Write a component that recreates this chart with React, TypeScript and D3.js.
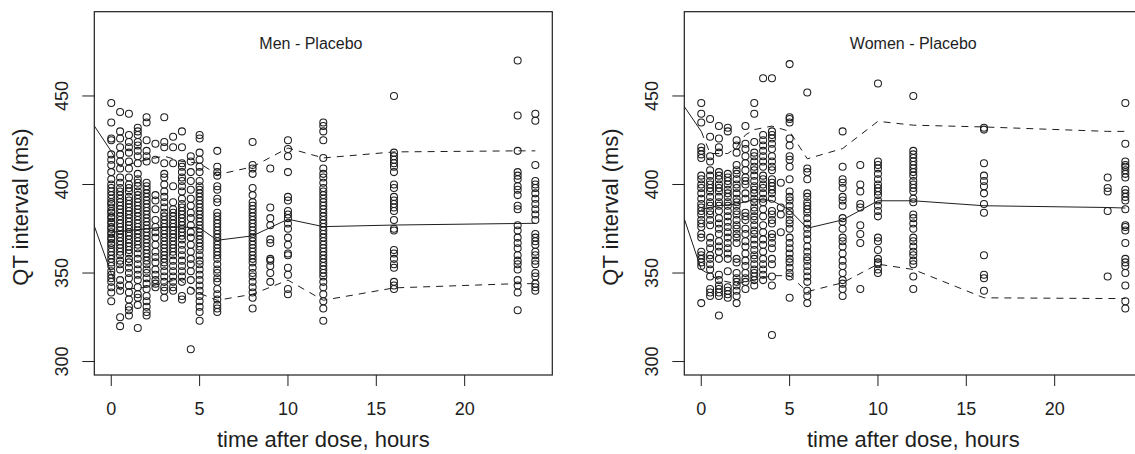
import React, { useEffect, useRef } from "react";
import * as d3 from "d3";

// nominal sampling times (hours) shared by both panels
const pointTimes = [0, 0.5, 1, 1.5, 2, 2.5, 3, 3.5, 4, 4.5, 5, 6, 8, 9, 10, 12, 16, 23, 24];

// QT values (ms) per sampling time, men
const menQT = [
  [446, 435, 426, 425, 417, 414, 411, 407, 403, 400, 398, 396, 394, 392, 390, 389, 387, 385, 384, 382, 381, 379, 378, 376, 375, 373, 372, 370, 369, 367, 366, 364, 362, 360, 358, 356, 354, 351, 349, 347, 345, 342, 339, 334],
  [441, 430, 426, 421, 417, 413, 409, 404, 401, 398, 396, 394, 392, 390, 388, 386, 384, 382, 380, 378, 376, 374, 372, 370, 368, 366, 364, 362, 360, 357, 355, 352, 346, 343, 340, 325, 320],
  [440, 428, 424, 421, 418, 413, 409, 404, 400, 398, 396, 393, 391, 389, 387, 385, 383, 381, 379, 377, 375, 373, 371, 369, 367, 365, 363, 361, 358, 356, 353, 350, 347, 343, 339, 335, 331, 329, 326],
  [432, 430, 428, 424, 422, 419, 416, 412, 406, 403, 401, 399, 396, 394, 392, 390, 388, 386, 384, 382, 380, 378, 376, 374, 372, 370, 368, 366, 364, 361, 358, 355, 352, 349, 346, 342, 338, 336, 332, 319],
  [438, 435, 425, 419, 416, 413, 401, 399, 397, 395, 393, 391, 389, 387, 385, 383, 381, 379, 377, 375, 373, 371, 369, 367, 365, 363, 361, 359, 357, 355, 352, 350, 347, 344, 341, 337, 334, 331, 328, 326],
  [423, 414, 394, 391, 386, 380, 376, 373, 370, 366, 362, 359, 356, 352, 349, 346, 344, 342],
  [438, 424, 421, 412, 406, 404, 400, 396, 393, 390, 387, 384, 382, 380, 378, 376, 374, 372, 370, 368, 366, 364, 362, 360, 358, 356, 354, 351, 348, 345, 342, 340, 336],
  [427, 421, 412, 399, 390, 386, 384, 382, 380, 378, 376, 374, 372, 370, 368, 366, 364, 362, 360, 357, 354, 351, 348, 345, 342, 340],
  [430, 421, 412, 410, 407, 404, 402, 399, 396, 392, 389, 387, 385, 383, 381, 379, 377, 375, 373, 371, 369, 366, 363, 360, 357, 354, 351, 348, 345, 337, 335],
  [416, 413, 407, 402, 397, 392, 388, 384, 381, 377, 373, 370, 366, 362, 358, 355, 351, 346, 340, 307],
  [428, 426, 418, 414, 410, 407, 402, 399, 397, 395, 393, 391, 389, 387, 385, 383, 381, 379, 377, 375, 373, 371, 369, 367, 365, 363, 360, 357, 355, 352, 349, 346, 343, 340, 337, 334, 331, 328, 323],
  [419, 410, 407, 405, 399, 397, 392, 390, 384, 382, 380, 378, 376, 374, 372, 370, 368, 366, 364, 362, 360, 358, 355, 352, 350, 347, 345, 341, 338, 335, 332, 330, 328],
  [424, 411, 409, 406, 398, 394, 390, 388, 386, 384, 382, 380, 378, 376, 374, 372, 370, 368, 366, 364, 362, 360, 358, 356, 353, 350, 348, 345, 342, 339, 336, 330],
  [409, 387, 381, 377, 369, 367, 358, 357, 354, 350, 345],
  [425, 420, 416, 407, 393, 391, 385, 383, 381, 378, 375, 370, 366, 361, 360, 353, 349, 341, 338],
  [435, 433, 430, 425, 415, 409, 406, 404, 401, 398, 396, 394, 392, 390, 388, 386, 384, 382, 380, 378, 376, 374, 372, 370, 368, 366, 364, 362, 360, 358, 356, 354, 352, 350, 348, 345, 342, 338, 334, 330, 323],
  [450, 418, 416, 414, 412, 410, 407, 400, 398, 393, 391, 389, 387, 385, 380, 375, 374, 363, 361, 358, 355, 353, 345, 343, 341],
  [470, 439, 419, 407, 405, 403, 399, 397, 394, 388, 386, 377, 374, 370, 367, 364, 360, 357, 355, 352, 346, 343, 339, 329],
  [440, 436, 411, 402, 400, 398, 395, 392, 389, 386, 383, 380, 372, 370, 368, 366, 362, 360, 357, 355, 350, 348, 344, 342, 340],
];

// QT values (ms) per sampling time, women
const womenQT = [
  [446, 440, 435, 421, 419, 417, 415, 405, 403, 400, 398, 395, 392, 389, 387, 385, 383, 380, 378, 376, 372, 370, 362, 360, 358, 356, 354, 333],
  [437, 427, 416, 413, 408, 405, 402, 400, 398, 396, 393, 390, 388, 385, 383, 380, 377, 370, 367, 364, 360, 358, 355, 352, 348, 341, 339, 337],
  [433, 426, 421, 418, 407, 405, 403, 400, 398, 396, 393, 390, 388, 385, 381, 378, 375, 372, 368, 365, 362, 358, 349, 346, 343, 341, 339, 337, 326],
  [432, 430, 406, 404, 402, 400, 397, 395, 393, 390, 388, 385, 382, 379, 376, 373, 370, 367, 364, 361, 358, 351, 342, 340, 338, 336],
  [425, 422, 418, 411, 408, 406, 403, 400, 398, 395, 392, 390, 388, 385, 383, 380, 377, 375, 372, 370, 367, 358, 356, 350, 347, 345, 343, 340, 337, 333],
  [433, 423, 420, 416, 412, 408, 404, 402, 400, 395, 392, 384, 382, 380, 375, 372, 368, 365, 361, 357, 354, 350, 347, 345, 341],
  [446, 440, 424, 418, 416, 413, 410, 408, 405, 402, 399, 397, 395, 392, 390, 387, 385, 382, 380, 377, 374, 372, 369, 366, 363, 360, 358, 355, 352, 350, 348, 346, 343],
  [460, 428, 425, 422, 419, 416, 413, 410, 405, 403, 400, 398, 395, 392, 390, 386, 382, 377, 373, 369, 366, 362, 358, 355, 352, 349, 346],
  [460, 430, 428, 426, 423, 420, 416, 413, 410, 408, 403, 401, 399, 397, 395, 392, 385, 383, 380, 378, 372, 370, 367, 364, 358, 355, 348, 343, 315],
  [401, 387, 383, 373],
  [468, 438, 437, 435, 426, 422, 416, 414, 410, 403, 396, 393, 391, 388, 385, 383, 380, 378, 375, 370, 367, 364, 361, 358, 356, 353, 350, 348, 336],
  [452, 409, 407, 403, 395, 393, 390, 388, 386, 384, 381, 378, 375, 372, 369, 365, 362, 359, 357, 354, 351, 348, 345, 340, 337, 333],
  [430, 410, 403, 401, 398, 393, 391, 388, 381, 379, 375, 370, 368, 365, 361, 357, 354, 350, 346, 344, 341, 337],
  [411, 400, 396, 389, 387, 377, 372, 367, 341],
  [457, 413, 411, 409, 406, 403, 400, 398, 396, 394, 391, 388, 385, 382, 370, 368, 363, 358, 356, 355, 352, 350],
  [450, 419, 417, 415, 413, 411, 409, 407, 405, 402, 400, 398, 396, 392, 390, 383, 381, 378, 375, 370, 368, 365, 362, 360, 357, 355, 348, 341],
  [432, 431, 412, 405, 402, 399, 395, 389, 384, 360, 349, 347, 340],
  [404, 398, 396, 385, 348],
  [446, 423, 413, 411, 410, 408, 406, 404, 397, 395, 393, 391, 386, 377, 376, 374, 367, 358, 356, 354, 350, 343, 334, 330],
];

// summary lines, men (first node is pre-dose)
const menUpperTimes = [-1, 0, 0.5, 2, 3, 4, 5, 6, 8, 10, 12, 16, 23, 24];
const menUpper = [433.7, 418.7, 410, 414, 416, 413, 412, 405.5, 410, 420.6, 415, 418.4, 419, 419];
const menLowerTimes = [-1, 0, 0.5, 2, 3.8, 5, 6, 8, 10, 12, 16, 23, 24];
const menLower = [377.7, 349.7, 340.5, 342, 346.5, 338.5, 334.6, 338, 346, 334.6, 341.6, 344, 344];
const menMedianTimes = [0, 1, 2, 3, 4, 5, 6, 8, 10, 12, 16, 24];
const menMedian = [373, 374, 375, 376, 376, 375.5, 368.5, 371, 380.4, 376.2, 377.1, 378.1];

// summary lines, women
const womenUpperTimes = [-1, 0, 0.5, 1.5, 2, 2.5, 3, 4, 5, 6, 8, 10, 12, 16, 23, 24];
const womenUpper = [444.6, 430, 417.5, 417.5, 421, 428, 431, 433, 430, 414.5, 420.3, 435.7, 433.5, 432.5, 430, 430];
const womenLowerTimes = [-1, 0, 1, 2, 3, 4, 5, 6, 8, 10, 12, 16, 23, 24];
const womenLower = [381.8, 352, 346, 344, 346, 348.5, 348.5, 339.5, 344.5, 355, 352, 336, 335.6, 335.6];
const womenMedianTimes = [0, 1, 2, 3, 4, 5, 6, 8, 10, 12, 16, 23, 24];
const womenMedian = [386, 388, 389, 391.5, 391, 385.5, 375.3, 380, 390.8, 390.8, 388, 387, 386.7];

const xTicks = [0, 5, 10, 15, 20];
const yTicks = [300, 350, 400, 450];

const FONT = "'Liberation Sans', Arial, Helvetica, sans-serif";
const INK = "#1e1e1e";

const drawPanel = (svg, id, left, title, titleAt, qt, lines) => {
  const x = d3.scaleLinear().domain([-0.96, 24.96]).range([left, left + 458]);
  const y = d3.scaleLinear().domain([292.4, 497.6]).range([375, 11.7]);
  const [top, bottom] = [y.range()[1], y.range()[0]];

  svg
    .append("clipPath")
    .attr("id", id)
    .append("rect")
    .attr("x", x.range()[0])
    .attr("y", top)
    .attr("width", x.range()[1] - x.range()[0])
    .attr("height", bottom - top);

  const plot = svg.append("g").attr("clip-path", `url(#${id})`);

  // points
  pointTimes.forEach((t, i) => {
    plot
      .append("g")
      .selectAll("circle")
      .data(qt[i])
      .join("circle")
      .attr("cx", x(t))
      .attr("cy", (d) => y(d))
      .attr("r", 3.5)
      .attr("fill", "none")
      .attr("stroke", INK)
      .attr("stroke-width", 1.05);
  });

  const line = d3
    .line()
    .x((d) => x(d[0]))
    .y((d) => y(d[1]));

  lines.forEach(({ times, values, dashed }) => {
    const pts = times.map((t, i) => [t, values[i]]);
    if (dashed) {
      // pre-dose segment is drawn solid, the rest dashed
      const pre = pts.filter((p) => p[0] <= 0);
      const post = pts.filter((p) => p[0] >= 0);
      plot.append("path").attr("d", line(pre)).attr("fill", "none").attr("stroke", INK).attr("stroke-width", 1);
      plot
        .append("path")
        .attr("d", line(post))
        .attr("fill", "none")
        .attr("stroke", INK)
        .attr("stroke-width", 1)
        .attr("stroke-dasharray", "7,6");
    } else {
      plot.append("path").attr("d", line(pts)).attr("fill", "none").attr("stroke", INK).attr("stroke-width", 1);
    }
  });

  // box
  svg
    .append("rect")
    .attr("x", x.range()[0])
    .attr("y", top)
    .attr("width", x.range()[1] - x.range()[0])
    .attr("height", bottom - top)
    .attr("fill", "none")
    .attr("stroke", INK)
    .attr("stroke-width", 1.2);

  // x axis
  const gx = svg.append("g").attr("font-family", FONT).attr("font-size", 18).attr("fill", INK);
  xTicks.forEach((t) => {
    gx.append("line").attr("x1", x(t)).attr("x2", x(t)).attr("y1", bottom).attr("y2", bottom + 11).attr("stroke", INK).attr("stroke-width", 1);
    gx.append("text").attr("x", x(t)).attr("y", bottom + 39.5).attr("text-anchor", "middle").text(t);
  });

  // y axis
  const gy = svg.append("g").attr("font-family", FONT).attr("font-size", 18).attr("fill", INK);
  yTicks.forEach((v) => {
    gy.append("line").attr("x1", left - 12).attr("x2", left).attr("y1", y(v)).attr("y2", y(v)).attr("stroke", INK).attr("stroke-width", 1);
    gy.append("text")
      .attr("transform", `translate(${left - 26},${y(v)}) rotate(-90)`)
      .attr("text-anchor", "middle")
      .text(v);
  });

  // axis titles
  svg
    .append("text")
    .attr("x", (x.range()[0] + x.range()[1]) / 2)
    .attr("y", 447)
    .attr("text-anchor", "middle")
    .attr("font-family", FONT)
    .attr("font-size", 22)
    .attr("fill", INK)
    .text("time after dose, hours");

  svg
    .append("text")
    .attr("transform", `translate(${left - 66},207) rotate(-90)`)
    .attr("text-anchor", "middle")
    .attr("font-family", FONT)
    .attr("font-size", 22)
    .attr("fill", INK)
    .text("QT interval (ms)");

  // panel title
  svg
    .append("text")
    .attr("x", x(titleAt))
    .attr("y", y(476.5))
    .attr("text-anchor", "middle")
    .attr("font-family", FONT)
    .attr("font-size", 16)
    .attr("fill", INK)
    .text(title);
};

const App = () => {
  const svgRef = useRef();

  useEffect(() => {
    const svg = d3.select(svgRef.current);
    svg.selectAll("*").remove();

    drawPanel(svg, "clip-men", 94.3, "Men - Placebo", 11.3, menQT, [
      { times: menUpperTimes, values: menUpper, dashed: true },
      { times: menLowerTimes, values: menLower, dashed: true },
      { times: menMedianTimes, values: menMedian, dashed: false },
    ]);

    drawPanel(svg, "clip-women", 684.3, "Women - Placebo", 12, womenQT, [
      { times: womenUpperTimes, values: womenUpper, dashed: true },
      { times: womenLowerTimes, values: womenLower, dashed: true },
      { times: womenMedianTimes, values: womenMedian, dashed: false },
    ]);
  }, []);

  return (
    <svg
      ref={svgRef}
      width="1135"
      height="454"
      style={{ position: "absolute", left: 0, top: 0, background: "#fff" }}
    ></svg>
  );
};

export default App;
